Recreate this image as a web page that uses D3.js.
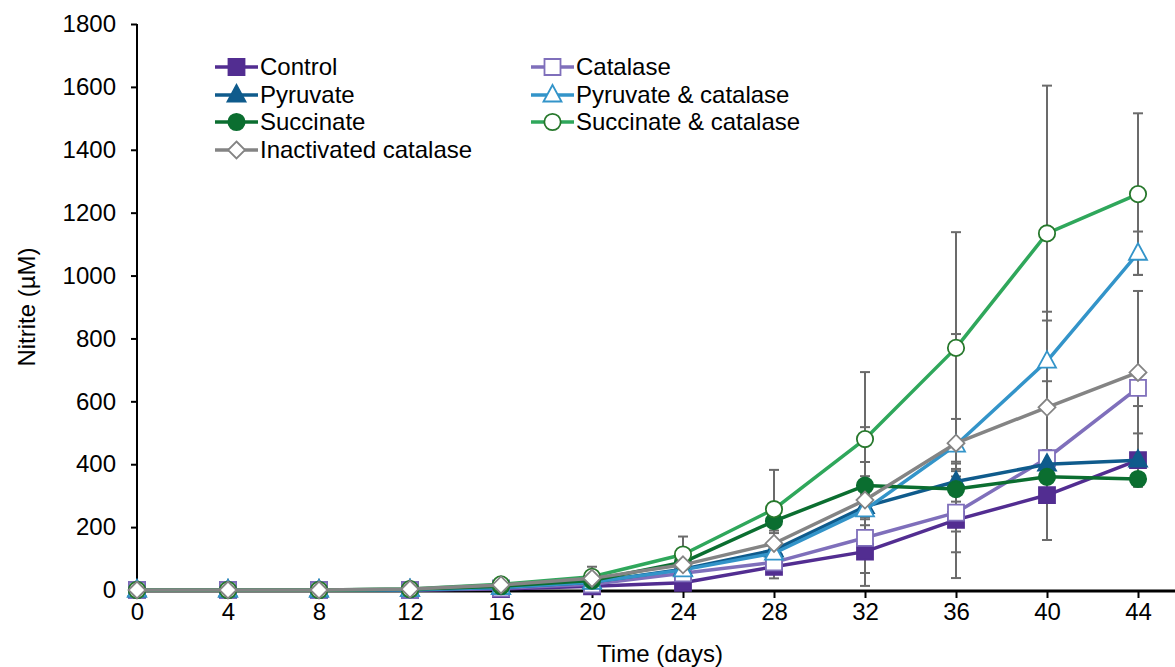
<!DOCTYPE html>
<html>
<head>
<meta charset="utf-8">
<title>Nitrite</title>
<script src="https://d3js.org/d3.v7.min.js"></script>
<style>
body{ margin:0; background:#fff; font-family:"Liberation Sans", Arial, sans-serif; }
svg text{ font-family:"Liberation Sans", Arial, sans-serif; fill:#000; }
</style>
</head>
<body>
<svg id="chart" width="1175" height="667"></svg>
<script>
// data
var days = [0, 4, 8, 12, 16, 20, 24, 28, 32, 36, 40, 44];
var yTicks = [0, 200, 400, 600, 800, 1000, 1200, 1400, 1600, 1800];

var control   = [0, 0, 0, 0, 3, 12, 23, 74, 122, 223, 302, 413];
var catalase  = [0, 0, 0, 0, 5, 18, 53, 88, 166, 246, 419, 643];
var pyruvate  = [0, 0, 0, 1, 8, 25, 66, 127, 265, 345, 400, 413];
var pyrCat    = [0, 0, 0, 1, 8, 25, 64, 117, 255, 461, 728, 1071];
var succinate = [0, 0, 0, 2, 12, 30, 88, 219, 332, 321, 360, 353];
var succCat   = [0, 0, 0, 3, 18, 42, 113, 257, 480, 770, 1134, 1259];
var inact     = [0, 0, 0, 3, 16, 37, 80, 148, 286, 467, 581, 692];

var controlErr   = [0, 0, 0, 0, 2, 5, 10, 37, 109, 185, 143, 85];
var catalaseErr  = [0, 0, 0, 0, 2, 5, 10, 20, 40, 60, 20, 58];
var pyruvateErr  = [0, 0, 0, 0, 2, 5, 10, 20, 40, 40, 20, 15];
var pyrCatErr    = [0, 0, 0, 0, 3, 8, 15, 30, 107, 83, 157, 69];
var succinateErr = [0, 0, 0, 0, 3, 8, 15, 30, 75, 40, 20, 15];
var succCatErr   = [0, 0, 0, 0, 5, 32, 57, 125, 213, 368, 470, 257];
var inactErr     = [0, 0, 0, 0, 4, 10, 20, 33, 232, 347, 276, 259];

var series = [
  {name:"Control", vals:control, err:controlErr, line:"#522d91", stroke:"#522d91", fill:"#522d91", shape:"square"},
  {name:"Catalase", vals:catalase, err:catalaseErr, line:"#7f6fbb", stroke:"#7f6fbb", fill:"#fff", shape:"square"},
  {name:"Pyruvate", vals:pyruvate, err:pyruvateErr, line:"#0f5b8c", stroke:"#0f5b8c", fill:"#0f5b8c", shape:"triangle"},
  {name:"Pyruvate & catalase", vals:pyrCat, err:pyrCatErr, line:"#3394c9", stroke:"#3394c9", fill:"#fff", shape:"triangle"},
  {name:"Succinate", vals:succinate, err:succinateErr, line:"#0b6e30", stroke:"#0b6e30", fill:"#0b6e30", shape:"circle"},
  {name:"Succinate & catalase", vals:succCat, err:succCatErr, line:"#2fa75b", stroke:"#27782c", fill:"#fff", shape:"circle"},
  {name:"Inactivated catalase", vals:inact, err:inactErr, line:"#848484", stroke:"#848484", fill:"#fff", shape:"diamond"}
];

var svg = d3.select("#chart");
var x = d3.scaleLinear().domain([0, 44]).range([137, 1138]);
var y = d3.scaleLinear().domain([0, 1800]).range([590, 24]);

function markerPath(shape){
  if(shape=="square") return "M-8,-8H8V8H-8Z";
  if(shape=="triangle") return "M0,-10L9,6.5H-9Z";
  if(shape=="diamond") return "M0,-8.5L8.5,0L0,8.5L-8.5,0Z";
  return d3.symbol().type(d3.symbolCircle).size(210)();
}

// axes
var yAxis = d3.axisLeft(y).tickValues(yTicks).tickFormat(d3.format("d")).tickSize(6).tickPadding(15);
var gy = svg.append("g").attr("transform","translate(137,0)").call(yAxis);
gy.select(".domain").remove();
gy.selectAll("text").style("font-size","24px");
gy.selectAll("line").attr("stroke","#000").attr("stroke-width",2);

var xAxis = d3.axisBottom(x).tickValues(days).tickSize(7).tickPadding(5);
var gx = svg.append("g").attr("transform","translate(0,591)").call(xAxis);
gx.select(".domain").remove();
gx.selectAll("text").style("font-size","24px");
gx.selectAll("line").attr("stroke","#000").attr("stroke-width",2);

svg.append("line").attr("x1",137).attr("x2",137).attr("y1",24).attr("y2",592)
  .attr("stroke","#000").attr("stroke-width",2);
svg.append("line").attr("x1",136).attr("x2",1175).attr("y1",591).attr("y2",591)
  .attr("stroke","#000").attr("stroke-width",3);

svg.append("text").attr("x",660).attr("y",662).attr("text-anchor","middle")
  .style("font-size","24px").text("Time (days)");
svg.append("text").attr("transform","translate(35,307) rotate(-90)").attr("text-anchor","middle")
  .style("font-size","24px").text("Nitrite (µM)");

// error bars
var eg = svg.append("g");
series.forEach(function(s){
  s.vals.forEach(function(v,i){
    var e = s.err[i];
    if(!e) return;
    var cx = x(days[i]);
    eg.append("line").attr("x1",cx).attr("x2",cx).attr("y1",y(v+e)).attr("y2",y(Math.max(v-e,0)))
      .attr("stroke","#6b6b6b").attr("stroke-width",2);
    [v+e, v-e].forEach(function(t){
      if(t<0) return;
      eg.append("line").attr("x1",cx-5).attr("x2",cx+5).attr("y1",y(t)).attr("y2",y(t))
        .attr("stroke","#6b6b6b").attr("stroke-width",2);
    });
  });
});

// lines + markers
var line = d3.line().x(function(d,i){ return x(days[i]); }).y(function(d){ return y(d); });
series.forEach(function(s){
  var g = svg.append("g");
  g.append("path").datum(s.vals).attr("d",line).attr("fill","none")
    .attr("stroke",s.line).attr("stroke-width",3.5).attr("stroke-linejoin","round");
  g.selectAll("path.m").data(s.vals).enter().append("path").attr("class","m")
    .attr("d",markerPath(s.shape))
    .attr("transform",function(d,i){ return "translate("+x(days[i])+","+y(d)+")"; })
    .attr("fill",s.fill).attr("stroke",s.stroke).attr("stroke-width",1.8);
});

// legend
var legPos = [[215,67],[531,67],[215,95],[531,95],[215,122],[531,122],[215,150]];
series.forEach(function(s,i){
  var p = legPos[i];
  var lg = svg.append("g").attr("transform","translate("+p[0]+","+p[1]+")");
  lg.append("line").attr("x1",0).attr("x2",43).attr("stroke",s.line).attr("stroke-width",3.5);
  lg.append("path").attr("d",markerPath(s.shape)).attr("transform","translate(21.5,0)")
    .attr("fill",s.fill).attr("stroke",s.stroke).attr("stroke-width",1.8);
  lg.append("text").attr("x",45).attr("y",8).style("font-size","24px").text(s.name);
});
</script>
</body>
</html>
